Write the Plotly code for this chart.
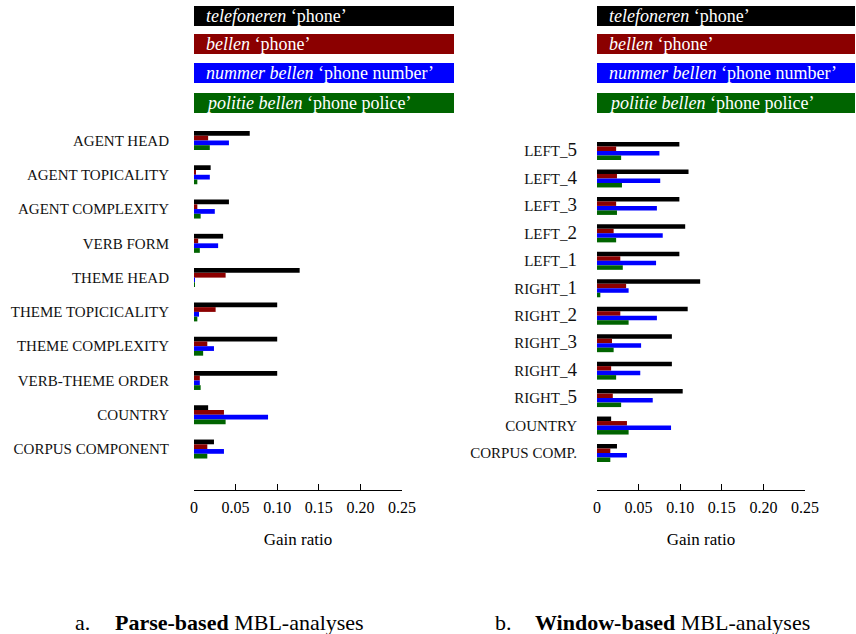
import plotly.graph_objects as go

# ---------------- data ----------------
series_names = ["telefoneren", "bellen", "nummer bellen", "politie bellen"]
series_glosses = ["phone", "phone", "phone number", "phone police"]
series_colors = ["#000000", "#8b0000", "#0000ff", "#006400"]

parse_categories = ["AGENT HEAD", "AGENT TOPICALITY", "AGENT COMPLEXITY", "VERB FORM",
                    "THEME HEAD", "THEME TOPICICALITY", "THEME COMPLEXITY",
                    "VERB-THEME ORDER", "COUNTRY", "CORPUS COMPONENT"]
parse_telefoneren = [0.067, 0.020, 0.042, 0.035, 0.127, 0.100, 0.100, 0.100, 0.017, 0.024]
parse_bellen = [0.017, 0.002, 0.004, 0.005, 0.038, 0.026, 0.016, 0.007, 0.036, 0.016]
parse_nummer_bellen = [0.042, 0.019, 0.025, 0.029, 0.001, 0.006, 0.024, 0.007, 0.089, 0.036]
parse_politie_bellen = [0.019, 0.004, 0.008, 0.007, 0.001, 0.004, 0.011, 0.008, 0.038, 0.016]

window_categories = ["LEFT_5", "LEFT_4", "LEFT_3", "LEFT_2", "LEFT_1", "RIGHT_1",
                     "RIGHT_2", "RIGHT_3", "RIGHT_4", "RIGHT_5", "COUNTRY", "CORPUS COMP."]
window_telefoneren = [0.099, 0.110, 0.099, 0.106, 0.099, 0.124, 0.109, 0.090, 0.090, 0.103, 0.017, 0.024]
window_bellen = [0.023, 0.024, 0.023, 0.020, 0.028, 0.035, 0.028, 0.018, 0.017, 0.019, 0.036, 0.016]
window_nummer_bellen = [0.075, 0.076, 0.072, 0.079, 0.071, 0.038, 0.072, 0.053, 0.052, 0.067, 0.089, 0.036]
window_politie_bellen = [0.029, 0.030, 0.024, 0.023, 0.031, 0.004, 0.038, 0.020, 0.023, 0.029, 0.038, 0.016]

x_tick_vals = [0, 0.05, 0.10, 0.15, 0.20, 0.25]
x_tick_text = ["0", "0.05", "0.10", "0.15", "0.20", "0.25"]
x_title = "Gain ratio"
caption_a = ("a.", "Parse-based", "MBL-analyses")
caption_b = ("b.", "Window-based", "MBL-analyses")

parse_values = [parse_telefoneren, parse_bellen, parse_nummer_bellen, parse_politie_bellen]
window_values = [window_telefoneren, window_bellen, window_nummer_bellen, window_politie_bellen]

# ---------------- figure ----------------
W, H = 856, 634
SERIF = "Liberation Serif, Times New Roman, serif"

fig = go.Figure()

def px_x(p):
    return p / W

def px_y(p):
    return 1 - p / H

panels = [
    dict(cats=parse_categories, vals=parse_values, xa="x", ya="y", bw=0.1385),
    dict(cats=window_categories, vals=window_values, xa="x2", ya="y2", bw=0.164),
]

for pnl in panels:
    bw = pnl["bw"]
    for i, (name, vals) in enumerate(zip(series_names, pnl["vals"])):
        fig.add_trace(go.Bar(
            x=vals, y=pnl["cats"], orientation="h",
            name=name, marker=dict(color=series_colors[i], line=dict(width=0)),
            width=bw, offset=-2 * bw + i * bw,
            xaxis=pnl["xa"], yaxis=pnl["ya"], showlegend=False,
            hovertemplate=name + ": %{x}<extra>%{y}</extra>",
        ))

def window_tick(label):
    if "_" in label:
        word, num = label.split("_")
        return f"{word}_<span style='font-size:19px'>{num}</span>"
    return label

xaxis_common = dict(
    range=[0, 0.25], tickmode="array", tickvals=x_tick_vals, ticktext=x_tick_text,
    ticks="inside", ticklen=6, tickwidth=1, tickcolor="#000",
    showline=True, linecolor="#000", linewidth=1, showgrid=False, zeroline=False,
    automargin=False, ticklabelstandoff=3,
    tickfont=dict(family=SERIF, size=16, color="#000"),
    title=dict(text=x_title, font=dict(family=SERIF, size=17, color="#000"), standoff=17),
    fixedrange=True,
)

yd = [px_y(490), px_y(123)]

fig.update_layout(
    template="none",
    width=W, height=H, autosize=False,
    margin=dict(l=0, r=0, t=0, b=0, pad=0),
    paper_bgcolor="white", plot_bgcolor="white",
    barmode="group",
    xaxis=dict(domain=[px_x(194), px_x(402)], anchor="y", **xaxis_common),
    xaxis2=dict(domain=[px_x(597), px_x(805)], anchor="y2", **xaxis_common),
    yaxis=dict(domain=yd, anchor="x", type="category", range=[10.195, -0.51],
               showline=False, showgrid=False, zeroline=False, ticks="", automargin=False,
               tickmode="array", tickvals=parse_categories, ticktext=parse_categories,
               ticklabelstandoff=24, fixedrange=True,
               tickfont=dict(family=SERIF, size=15, color="#111")),
    yaxis2=dict(domain=yd, anchor="x2", type="category", range=[12.348, -1.02],
                showline=False, showgrid=False, zeroline=False, ticks="", automargin=False,
                tickmode="array", tickvals=window_categories,
                ticktext=[window_tick(c) for c in window_categories],
                ticklabelstandoff=19, fixedrange=True,
                tickfont=dict(family=SERIF, size=15, color="#111")),
)

# legend boxes (top of each panel)
box_tops = [6, 34, 63, 93]
box_h = 20
for x0, x1 in [(194, 454), (597, 855)]:
    for i, (name, gloss, col) in enumerate(zip(series_names, series_glosses, series_colors)):
        t = box_tops[i]
        fig.add_shape(type="rect", xref="paper", yref="paper",
                      x0=px_x(x0), x1=px_x(x1), y0=px_y(t + box_h), y1=px_y(t),
                      fillcolor=col, line=dict(width=0), layer="above")
        fig.add_annotation(xref="paper", yref="paper", x=px_x(x0 + 10), y=px_y(t + box_h / 2),
                           xanchor="left", yanchor="middle", showarrow=False,
                           text=f"<i>{name}</i> \u2018{gloss}\u2019",
                           font=dict(family=SERIF, size=18, color="white"))

# captions
for (lab, bold, rest), xl, xt in [(caption_a, 73, 113), (caption_b, 493, 533)]:
    fig.add_annotation(xref="paper", yref="paper", x=px_x(xl), y=px_y(622),
                       xanchor="left", yanchor="middle", showarrow=False,
                       text=lab, font=dict(family=SERIF, size=22, color="#000"))
    fig.add_annotation(xref="paper", yref="paper", x=px_x(xt), y=px_y(622),
                       xanchor="left", yanchor="middle", showarrow=False,
                       text=f"<b>{bold}</b> {rest}", font=dict(family=SERIF, size=22, color="#000"))

fig.write_html("out.html", config={"displayModeBar": False},
               post_script="document.body.style.margin='0';document.body.style.overflow='hidden';")
